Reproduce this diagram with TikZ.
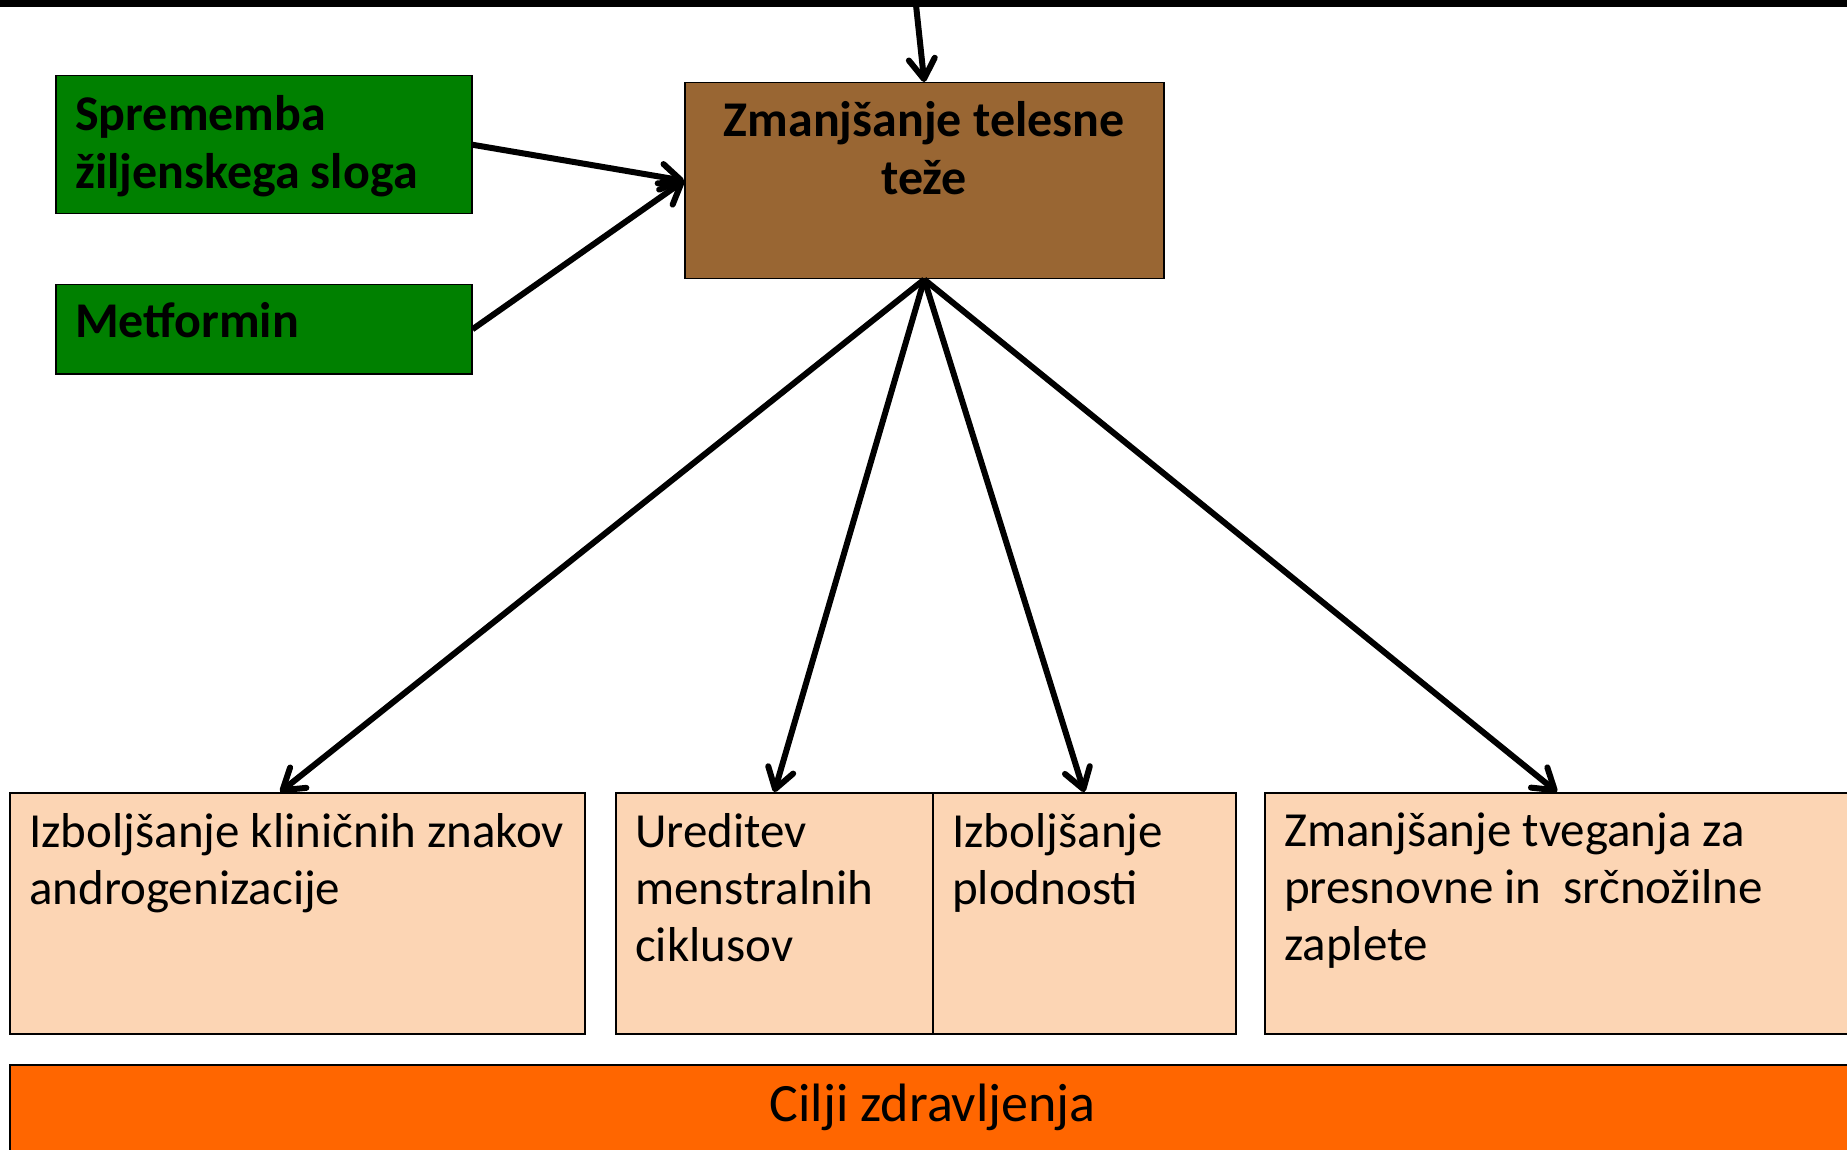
\documentclass[tikz,border=0pt]{standalone}
\usepackage{fontspec}
\setmainfont{Carlito}
\usetikzlibrary{arrows.meta,positioning,calc}
\definecolor{lifegreen}{RGB}{0,128,0}
\definecolor{weightbrown}{RGB}{153,102,51}
\definecolor{goalpeach}{RGB}{252,213,180}
\definecolor{goalorange}{RGB}{255,102,0}

\begin{document}
\begin{tikzpicture}[x=1pt,y=-1pt,>={Straight Barb[length=20pt,width=26pt,round]},
  box/.style={draw,line width=1.5pt,inner sep=0pt,anchor=north west},
  txt/.style={anchor=north west,align=left,inner sep=0pt,font=\fontsize{49}{57}\selectfont},
  btxt/.style={txt,font=\fontsize{50}{58}\selectfont\bfseries},
  link/.style={->,line width=6pt}]
\useasboundingbox (0,0) rectangle (1847,1150);
\fill[black] (0,0) rectangle (1847,7);
\coordinate (src) at (916,5);
% causes and central effect
\node[box,fill=lifegreen,minimum width=416pt,minimum height=138pt,
  label={[btxt,xshift=20pt,yshift=-20pt]north west:{Sprememba\\žiljenskega sloga}}] (spr) at (55,75) {};
\node[box,fill=lifegreen,minimum width=416pt,minimum height=89pt,
  label={[btxt,xshift=20pt,yshift=-18pt]north west:{Metformin}}] (met) at (55,284) {};
\node[box,fill=weightbrown,minimum width=479pt,minimum height=196pt,
  label={[btxt,anchor=north,align=center,yshift=-19pt]north:{Zmanjšanje telesne\\teže}}] (teza) at (684,82) {};
% goals
\node[box,fill=goalpeach,minimum width=575pt,minimum height=241pt,
  label={[txt,xshift=20pt,yshift=-21pt]north west:{Izboljšanje kliničnih znakov\\androgenizacije}}] (andro) at (9,792) {};
\node[box,fill=goalpeach,minimum width=317pt,minimum height=241pt,
  label={[txt,xshift=20pt,yshift=-21pt]north west:{Ureditev\\menstralnih\\ciklusov}}] (cikl) at (615,792) {};
\node[box,fill=goalpeach,minimum width=303pt,minimum height=241pt,
  label={[txt,xshift=20pt,yshift=-21pt]north west:{Izboljšanje\\plodnosti}}] (plod) at (932,792) {};
\node[box,fill=goalpeach,minimum width=600pt,minimum height=241pt,
  label={[txt,xshift=20pt,yshift=-21pt]north west:{Zmanjšanje tveganja za\\presnovne in\ \ srčnožilne\\zaplete}}] (tveg) at (1264,792) {};
\node[box,fill=goalorange,minimum width=1846pt,minimum height=86pt,
  font=\fontsize{54}{60}\selectfont] (cilji) at (9,1064) {Cilji zdravljenja};
% arrows
\draw[link] (src) -- (teza.north);
\draw[link] (spr.east) -- (teza.west);
\draw[link] (met.east) -- (teza.west);
\draw[link] (teza.south) -- ([xshift=-17pt]andro.north);
\draw[link] (teza.south) -- (cikl.north);
\draw[link] (teza.south) -- (plod.north);
\draw[link] (teza.south) -- ([xshift=293pt]tveg.north west);
\end{tikzpicture}
\end{document}
